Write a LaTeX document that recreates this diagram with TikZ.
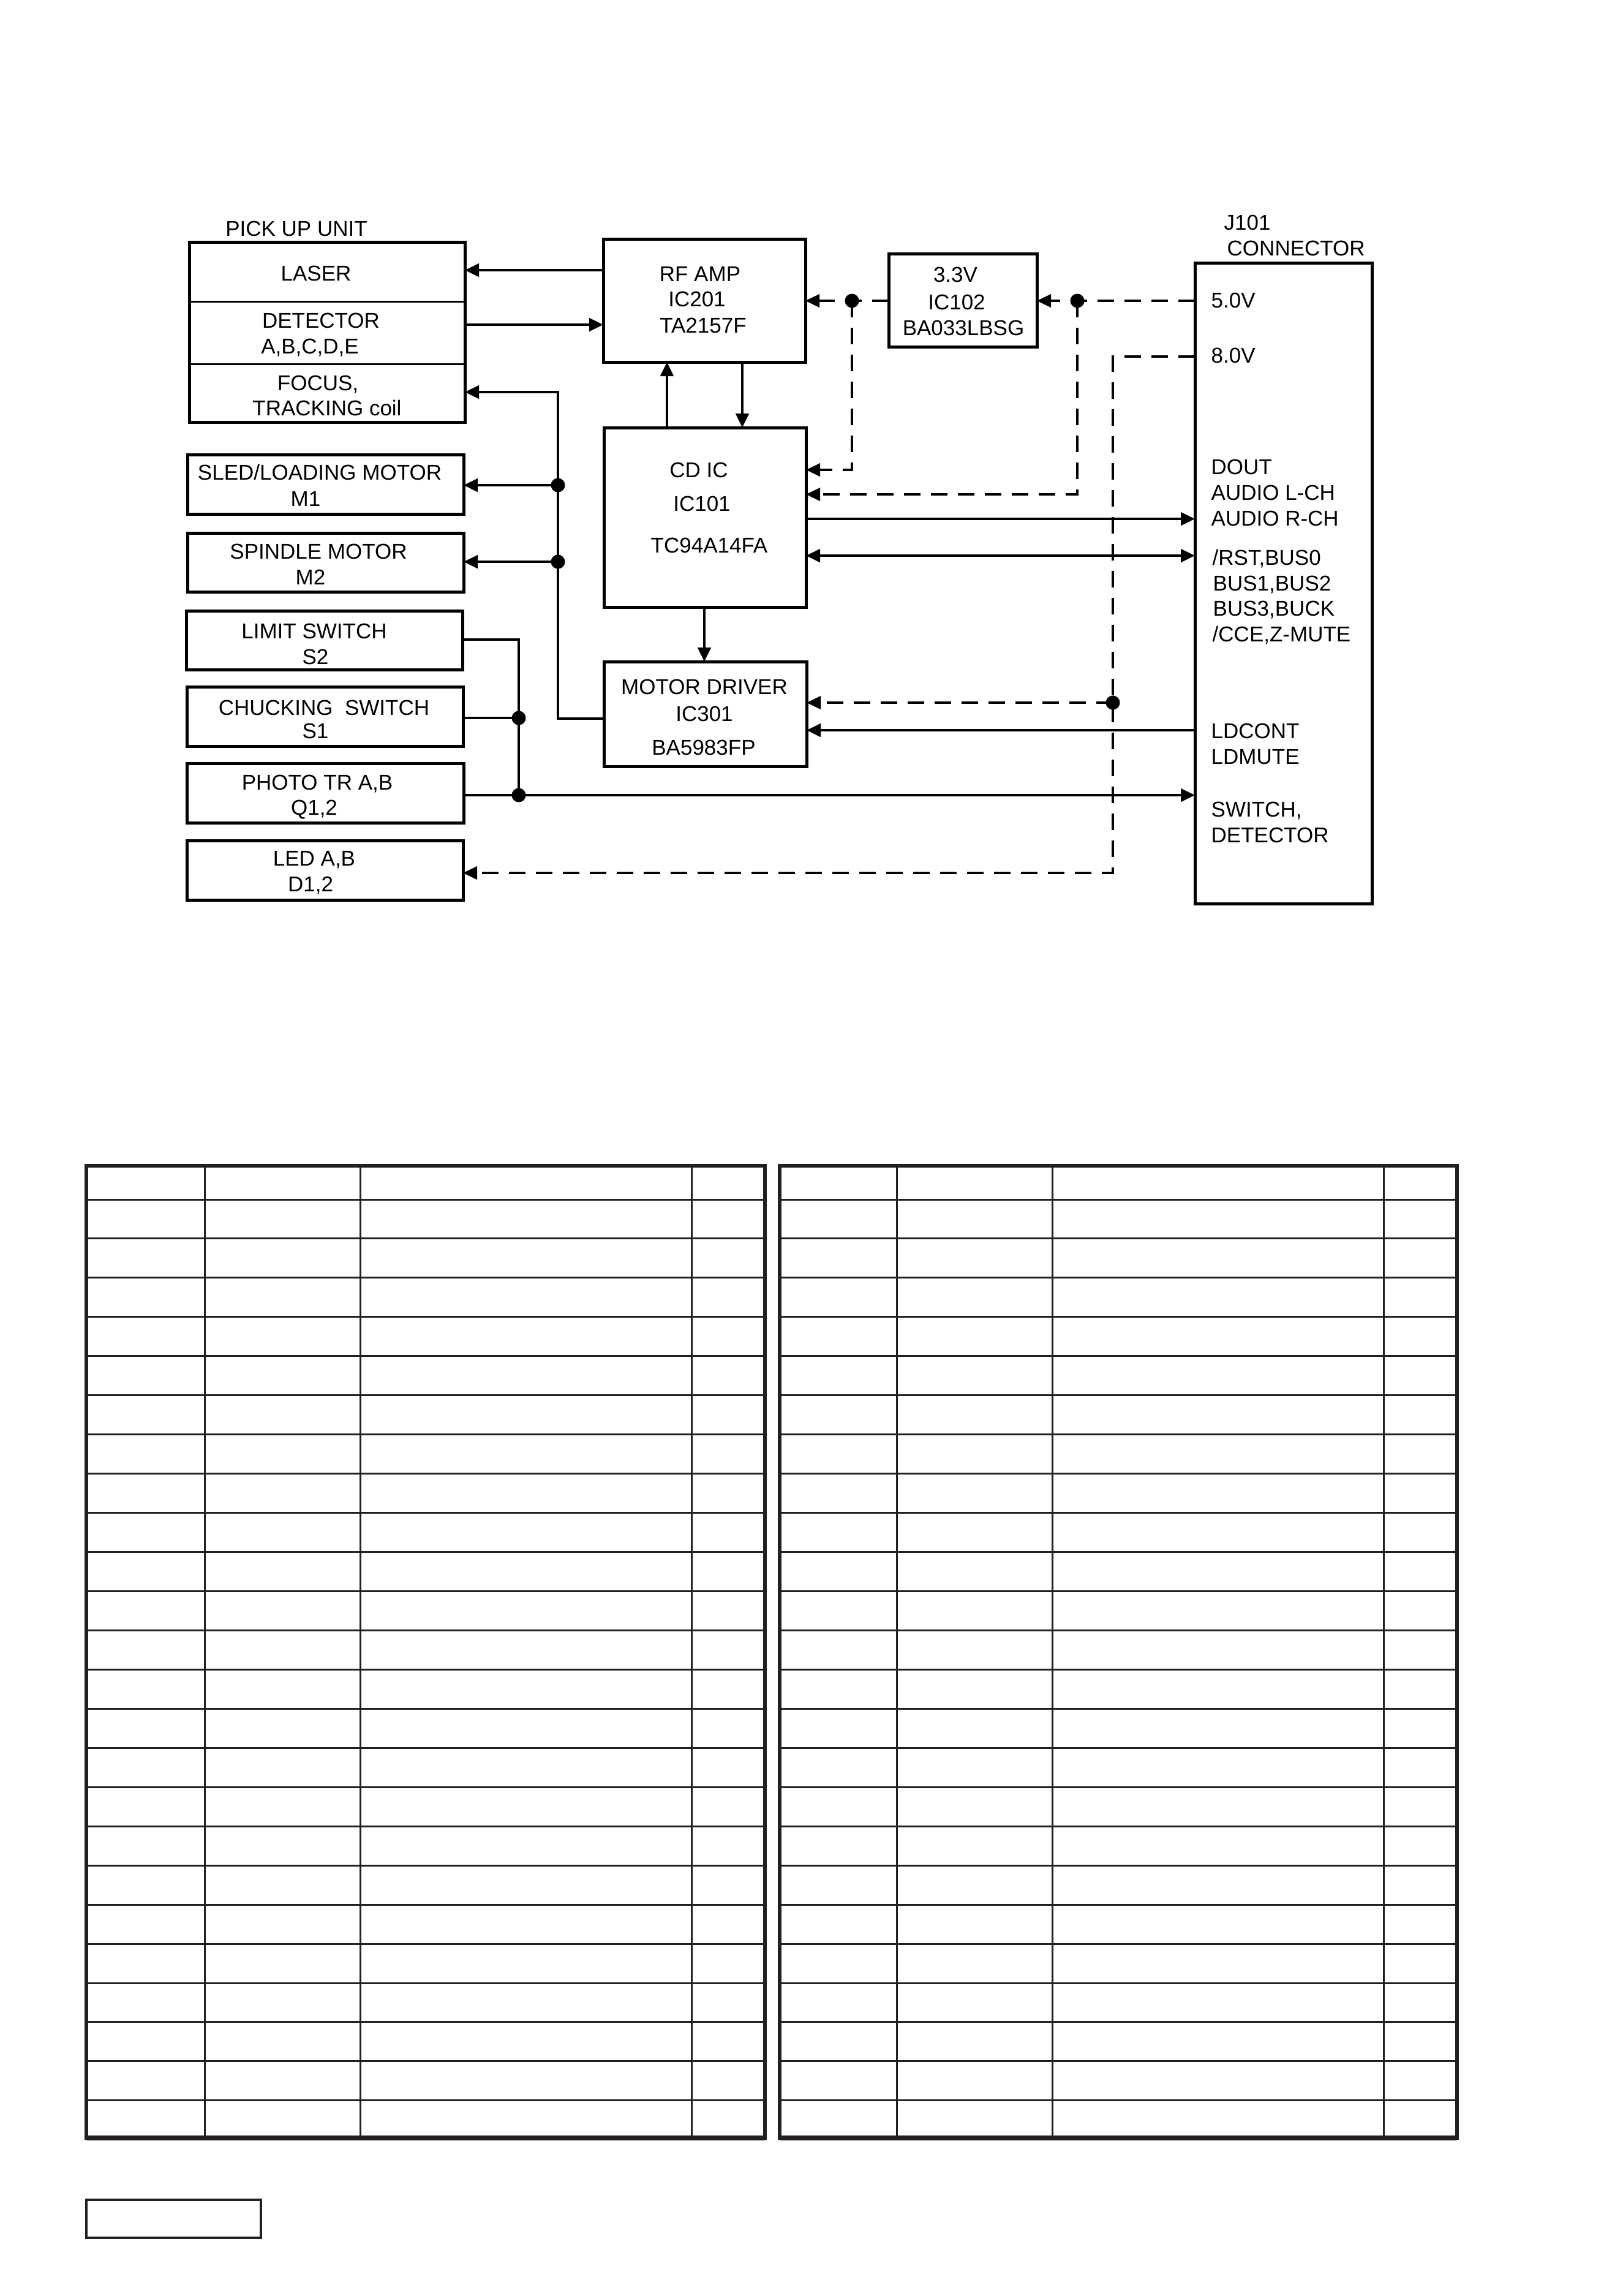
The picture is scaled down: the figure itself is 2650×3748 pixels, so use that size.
\documentclass[tikz,border=0pt]{standalone}
\usepackage{fontspec}
\setmainfont{Liberation Sans}
\usetikzlibrary{arrows.meta,fit}
\definecolor{tbl}{RGB}{35,31,32}
\begin{document}
\begin{tikzpicture}[x=0.1mm,y=-0.1mm,
  box/.style={draw, line width=0.5mm, inner sep=0pt, outer sep=0pt},
  lbl/.style={anchor=base, inner sep=0pt, font=\fontsize{9.96pt}{12pt}\selectfont},
  lbll/.style={lbl, anchor=base west},
  sol/.style={line width=0.48mm},
  dsh/.style={line width=0.38mm, dash pattern=on 2.7mm off 1.7mm},
  tip/.style={-{Triangle[length=2.3mm,width=2.1mm]}},
  dtip/.style={{Triangle[length=2.3mm,width=2.1mm]}-{Triangle[length=2.3mm,width=2.1mm]}},
  dot/.style={circle, fill, inner sep=0pt, minimum size=2.3mm},
  tline/.style={tbl, line width=0.3mm},
  tborder/.style={tbl, line width=0.65mm},
]
\useasboundingbox (0,0) rectangle (2650,3748);
\fill[white] (0,0) rectangle (2650,3748);

% ---------- boxes ----------
\node[box, fit={(309,395)(759,689)}] (pu) {};
\draw[line width=0.32mm] (pu.west |- 0,492.5) -- (pu.east |- 0,492.5);
\draw[line width=0.32mm] (pu.west |- 0,594.5) -- (pu.east |- 0,594.5);
\node[box, fit={(985,390)(1315,591)}] (rf) {};
\node[box, fit={(986,698)(1316,991)}] (cd) {};
\node[box, fit={(986,1080)(1317,1251)}] (md) {};
\node[box, fit={(1451,414)(1693,566)}] (reg) {};
\node[box, fit={(1951,429)(2240,1475)}] (j) {};
\node[box, fit={(306,742)(757,839)}] (sled) {};
\node[box, fit={(306,870)(757,966)}] (spin) {};
\node[box, fit={(304,997)(755,1093)}] (lim) {};
\node[box, fit={(305,1121)(756,1218)}] (chk) {};
\node[box, fit={(305,1246)(757,1343)}] (pho) {};
\node[box, fit={(305,1372)(756,1469)}] (led) {};

% ---------- texts ----------
\node[lbl] (tpu) at (484,385) {PICK UP UNIT};
\node[lbl] (tlaser) at (516,458) {LASER};
\node[lbl] (tdet) at (524,535) {DETECTOR};
\node[lbl] (tabc) at (506,577) {A,B,C,D,E};
\node[lbl] (tfoc) at (519,637) {FOCUS,};
\node[lbl] (ttrk) at (534,678) {TRACKING coil};
\node[lbl] (trf1) at (1143,459) {RF AMP};
\node[lbl] (trf2) at (1138,500) {IC201};
\node[lbl] (trf3) at (1148,543) {TA2157F};
\node[lbl] (tcd1) at (1141,779) {CD IC};
\node[lbl] (tcd2) at (1146,834) {IC101};
\node[lbl] (tcd3) at (1158,902) {TC94A14FA};
\node[lbl] (tmd1) at (1150,1133) {MOTOR DRIVER};
\node[lbl] (tmd2) at (1150,1177) {IC301};
\node[lbl] (tmd3) at (1149,1232) {BA5983FP};
\node[lbl] (tr1) at (1560,460) {3.3V};
\node[lbl] (tr2) at (1562,505) {IC102};
\node[lbl] (tr3) at (1573,547) {BA033LBSG};
\node[lbll] (tj1) at (1998,375) {J101};
\node[lbll] (tj2) at (2003,417) {CONNECTOR};
\node[lbll] (tj3) at (1977,502) {5.0V};
\node[lbll] (tj4) at (1977,592) {8.0V};
\node[lbll] (tj5) at (1977,774) {DOUT};
\node[lbll] (tj6) at (1977,816) {AUDIO L-CH};
\node[lbll] (tj7) at (1977,858) {AUDIO R-CH};
\node[lbll] (tj8) at (1979,922) {/RST,BUS0};
\node[lbll] (tj9) at (1980,964) {BUS1,BUS2};
\node[lbll] (tj10) at (1980,1005) {BUS3,BUCK};
\node[lbll] (tj11) at (1979,1047) {/CCE,Z-MUTE};
\node[lbll] (tj12) at (1977,1205) {LDCONT};
\node[lbll] (tj13) at (1977,1247) {LDMUTE};
\node[lbll] (tj14) at (1977,1333) {SWITCH,};
\node[lbll] (tj15) at (1977,1375) {DETECTOR};
\node[lbl] (ts1) at (522,783) {SLED/LOADING MOTOR};
\node[lbl] (ts2) at (499,826) {M1};
\node[lbl] (tsp1) at (520,912) {SPINDLE MOTOR};
\node[lbl] (tsp2) at (507,954) {M2};
\node[lbl] (tl1) at (513,1042) {LIMIT SWITCH};
\node[lbl] (tl2) at (515,1084) {S2};
\node[lbl] (tc1) at (529,1167) {CHUCKING\ \ SWITCH};
\node[lbl] (tc2) at (515,1205) {S1};
\node[lbl] (tp1) at (518,1289) {PHOTO TR A,B};
\node[lbl] (tp2) at (513,1330) {Q1,2};
\node[lbl] (te1) at (513,1413) {LED A,B};
\node[lbl] (te2) at (507,1455) {D1,2};

% ---------- solid connectors ----------
\draw[sol,tip] (rf.west |- 0,441) -- (pu.east |- 0,441);
\draw[sol,tip] (pu.east |- 0,530) -- (rf.west |- 0,530);
\draw[sol,tip] (cd.north -| 1089,0) -- (rf.south -| 1089,0);
\draw[sol,tip] (rf.south -| 1212,0) -- (cd.north -| 1212,0);
\draw[sol,tip] (cd.south -| 1150,0) -- (md.north -| 1150,0);
\draw[sol,tip] (md.west |- 0,1173) -- (911,1173) -- (911,640) -- (pu.east |- 0,640);
\node[dot] (d1) at (911,792) {};
\node[dot] (d2) at (911,917) {};
\draw[sol,tip] (d1.center) -- (sled.east |- d1.center);
\draw[sol,tip] (d2.center) -- (spin.east |- d2.center);
\draw[sol,tip] (cd.east |- 0,847) -- (j.west |- 0,847);
\draw[sol,dtip] (cd.east |- 0,907) -- (j.west |- 0,907);
\draw[sol,tip] (j.west |- 0,1192) -- (md.east |- 0,1192);
\node[dot] (d3) at (847,1172) {};
\node[dot] (d4) at (847,1298) {};
\draw[sol] (lim.east |- 0,1044) -- (847,1044) -- (d4.center);
\draw[sol] (chk.east |- d3.center) -- (d3.center);
\draw[sol,tip] (pho.east |- d4.center) -- (j.west |- d4.center);

% ---------- dashed connectors ----------
\node[dot] (d5) at (1759,491) {};
\node[dot] (d6) at (1391,491) {};
\node[dot] (d7) at (1817,1147) {};
\draw[dsh,tip] (j.west |- d5.center) -- (reg.east |- d5.center);
\draw[dsh,tip] (reg.west |- d6.center) -- (rf.east |- d6.center);
\draw[dsh,tip] (d6.center) -- (1391,767) -- (cd.east |- 0,767);
\draw[dsh,tip] (d5.center) -- (1759,807) -- (cd.east |- 0,807);
\draw[dsh,tip] (j.west |- 0,582) -- (1817,582) -- (1817,1425) -- (led.east |- 0,1425);
\draw[dsh,tip] (d7.center) -- (md.east |- d7.center);

% ---------- tables ----------
\foreach \xa/\xb/\ca/\cb/\cc in {141/1249/334/588/1129, 1273/2379/1464/1718/2259} {
  \foreach \k in {0,...,23} {
    \draw[tline] (\xa,{1958+\k*63.95}) -- (\xb,{1958+\k*63.95});
  }
  \draw[tline] (\ca,1903) -- (\ca,3490);
  \draw[tline] (\cb,1903) -- (\cb,3490);
  \draw[tline] (\cc,1903) -- (\cc,3490);
  \draw[tborder] (\xa,1903) rectangle (\xb,3490);
  \draw[tbl, line width=0.75mm] (\xa,3490) -- (\xb,3490);
}
\draw[tbl, line width=0.42mm] (141,3591) rectangle (426,3653);
\end{tikzpicture}
\end{document}
